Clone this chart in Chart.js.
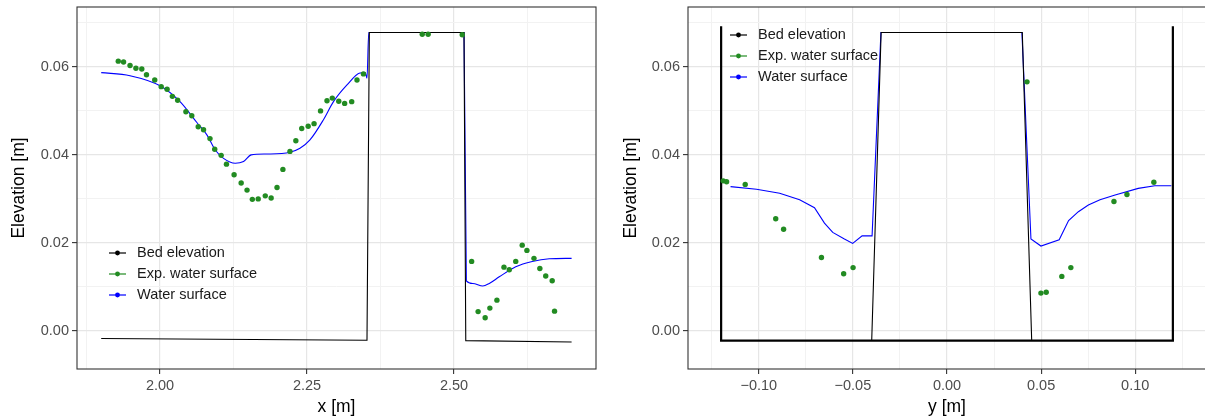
<!DOCTYPE html>
<html>
<head>
<meta charset="utf-8">
<script src="https://cdn.jsdelivr.net/npm/chart.js@4.4.0/dist/chart.umd.min.js"></script>
<style>
  html, body { margin: 0; padding: 0; background: #fff; overflow: hidden; width: 1205px; height: 418px; }
  #wrap { position: relative; width: 1205px; height: 418px; overflow: hidden; }
  canvas { position: absolute; top: 0; }
  #xChart { left: 0; }
  #yChart { left: 600px; }
</style>
</head>
<body>
<div id="wrap">
  <canvas id="xChart" width="600" height="418"></canvas>
  <canvas id="yChart" width="610" height="418"></canvas>
</div>
<script>
// series names + colours (legend order)
const seriesNames = ['Bed elevation', 'Exp. water surface', 'Water surface'];
const seriesColors = ['#000000', '#228B22', '#0000FF'];

// ---- left panel: profile along x ----
const xBedX = [1.900, 2.352, 2.356, 2.517, 2.520, 2.700];
const xBedY = [-0.0017, -0.0021, 0.0678, 0.0678, -0.0022, -0.0025];

const xWsX = [1.900, 1.949, 2.000, 2.034, 2.063, 2.080, 2.094, 2.108, 2.128, 2.142, 2.155, 2.182,
  2.221, 2.238, 2.255, 2.278, 2.295, 2.318, 2.340, 2.349, 2.352, 2.355, 2.517, 2.521, 2.532,
  2.549, 2.560, 2.577, 2.605, 2.633, 2.662, 2.700];
const xWsY = [0.0587, 0.0580, 0.0557, 0.0521, 0.0473, 0.0445, 0.0411, 0.0392, 0.0381, 0.0385, 0.0400, 0.0402,
  0.0406, 0.0415, 0.0434, 0.0480, 0.0521, 0.0559, 0.0586, 0.0587, 0.0574, 0.0678, 0.0678, 0.0114, 0.0108,
  0.0102, 0.0108, 0.0123, 0.0146, 0.0158, 0.0164, 0.0165];

const xExpX = [1.929, 1.938, 1.949, 1.959, 1.969, 1.977, 1.991, 2.002, 2.012, 2.021, 2.030, 2.044,
  2.054, 2.065, 2.074, 2.085, 2.093, 2.104, 2.113, 2.126, 2.138, 2.148, 2.157, 2.167, 2.179, 2.189,
  2.199, 2.209, 2.221, 2.231, 2.241, 2.252, 2.262, 2.273, 2.284, 2.293, 2.304, 2.314, 2.326, 2.335,
  2.346, 2.446, 2.456, 2.514, 2.530, 2.541, 2.553, 2.561, 2.573, 2.585, 2.594, 2.605, 2.616, 2.624,
  2.636, 2.646, 2.656, 2.667, 2.671];
const xExpY = [0.0613, 0.0611, 0.0603, 0.0597, 0.0595, 0.0582, 0.0570, 0.0555, 0.0549, 0.0533, 0.0524, 0.0498,
  0.0489, 0.0464, 0.0457, 0.0437, 0.0413, 0.0399, 0.0379, 0.0355, 0.0336, 0.0320, 0.0299, 0.0300, 0.0307, 0.0302,
  0.0326, 0.0367, 0.0408, 0.0432, 0.0460, 0.0465, 0.0471, 0.0500, 0.0523, 0.0529, 0.0522, 0.0517, 0.0521, 0.0570,
  0.0584, 0.0674, 0.0674, 0.0673, 0.0158, 0.0044, 0.0030, 0.0052, 0.0070, 0.0145, 0.0139, 0.0158, 0.0195, 0.0183,
  0.0165, 0.0142, 0.0125, 0.0114, 0.0045];

// ---- right panel: cross-section along y ----
// outer channel, then a break (null), then the block
const yBedX = [-0.120, -0.120, 0.120, 0.120, 0.000, -0.040, -0.035, 0.040, 0.045];
const yBedY = [0.0692, -0.0022, -0.0022, 0.0692, null, -0.0022, 0.0678, 0.0678, -0.0022];

const yWsX = [-0.115, -0.1012, -0.0889, -0.0783, -0.0704, -0.0651, -0.0607, -0.0545, -0.0501, -0.0451,
  -0.0398, -0.0351, 0.0398, 0.0446, 0.0499, 0.0596, 0.0646, 0.0698, 0.0751, 0.0813, 0.0893, 0.1016, 0.1104, 0.1192];
const yWsY = [0.0328, 0.0322, 0.0313, 0.0298, 0.0280, 0.0245, 0.0224, 0.0209, 0.0199, 0.0216,
  0.0216, 0.0678, 0.0678, 0.0209, 0.0193, 0.0207, 0.0251, 0.0271, 0.0286, 0.0298, 0.0309, 0.0324, 0.0330, 0.0330];

const yExpX = [-0.1189, -0.1171, -0.1072, -0.0910, -0.0868, -0.0667, -0.0549, -0.0499,
  0.0425, 0.0499, 0.0527, 0.0610, 0.0658, 0.0887, 0.0956, 0.1099];
const yExpY = [0.0341, 0.0339, 0.0333, 0.0255, 0.0231, 0.0167, 0.0130, 0.0144,
  0.0566, 0.0086, 0.0088, 0.0124, 0.0144, 0.0294, 0.0310, 0.0338];

// ticks / grid
const elevMajor = [0.00, 0.02, 0.04, 0.06];
const elevMinor = [0.01, 0.03, 0.05, 0.07];
const xMajor = [2.00, 2.25, 2.50];
const xMinor = [1.875, 2.125, 2.375, 2.625];
const yMajor = [-0.10, -0.05, 0.00, 0.05, 0.10];
const yMinor = [-0.125, -0.075, -0.025, 0.025, 0.075, 0.125];

const zip = (xs, ys) => xs.map((x, i) => ({ x: x, y: ys[i] }));
const isIn = (list, v) => list.some(m => Math.abs(m - v) < 1e-9);
const fmt = v => v.toFixed(2).replace('-', '\u2212');
const FONT = '"Liberation Sans", Arial, Helvetica, sans-serif';

// panel border drawn on top, like ggplot's theme_bw
const panelBorder = {
  id: 'panelBorder',
  afterDatasetsDraw(chart) {
    const { ctx, chartArea: a } = chart;
    ctx.save();
    ctx.strokeStyle = '#333333';
    ctx.lineWidth = 1.1;
    ctx.strokeRect(a.left, a.top, a.right - a.left, a.bottom - a.top);
    ctx.restore();
  }
};

// legend drawn inside the panel
const insideLegend = {
  id: 'insideLegend',
  afterDraw(chart, args, opts) {
    const { ctx, chartArea } = chart;
    const x0 = chartArea.left + opts.dx;
    const y0 = chartArea.top + opts.dy;
    ctx.save();
    ctx.font = '14.5px ' + FONT;
    ctx.textBaseline = 'middle';
    seriesNames.forEach((name, i) => {
      const y = y0 + i * 21;
      ctx.strokeStyle = seriesColors[i];
      ctx.fillStyle = seriesColors[i];
      ctx.lineWidth = 1.2;
      ctx.beginPath();
      ctx.moveTo(x0, y);
      ctx.lineTo(x0 + 17, y);
      ctx.stroke();
      ctx.beginPath();
      ctx.arc(x0 + 8.5, y, 2.4, 0, Math.PI * 2);
      ctx.fill();
      ctx.fillStyle = '#1a1a1a';
      ctx.fillText(name, x0 + 28, y);
    });
    ctx.restore();
  }
};

function axis(opts) {
  const ticks = opts.major.concat(opts.minor).sort((a, b) => a - b);
  return {
    type: 'linear',
    position: opts.position,
    min: opts.min,
    max: opts.max,
    afterBuildTicks: s => { s.ticks = ticks.map(v => ({ value: v })); },
    afterFit: s => {
      if (opts.position === 'left') s.width = opts.size; else s.height = opts.size;
      s.paddingTop = 0; s.paddingBottom = 0; s.paddingLeft = 0; s.paddingRight = 0;
    },
    border: { display: false },
    grid: {
      color: c => (c.tick && isIn(opts.major, c.tick.value)) ? '#e6e6e6' : '#f2f2f2',
      lineWidth: c => (c.tick && isIn(opts.major, c.tick.value)) ? 1.2 : 1,
      tickColor: c => (c.tick && isIn(opts.major, c.tick.value)) ? '#333333' : 'rgba(0,0,0,0)',
      tickLength: 5,
      tickWidth: 1.1
    },
    ticks: {
      autoSkip: false,
      maxRotation: 0,
      padding: 3,
      color: '#4d4d4d',
      font: { family: FONT, size: 14.5 },
      callback: v => isIn(opts.major, v) ? fmt(v) : ''
    },
    title: {
      display: true,
      text: opts.title,
      color: '#000000',
      font: { family: FONT, size: 17.5 },
      padding: opts.titlePad
    }
  };
}

function makeChart(id, data, xOpts, yOpts, legendPos, right) {
  const bed = data[0], ws = data[1], exp = data[2];
  return new Chart(document.getElementById(id), {
    type: 'scatter',
    data: {
      datasets: [
        {
          label: seriesNames[1], data: exp, showLine: false,
          pointRadius: 2.7, pointBackgroundColor: seriesColors[1], pointBorderWidth: 0
        },
        {
          label: seriesNames[0], data: bed, showLine: true, spanGaps: false,
          borderColor: seriesColors[0], borderWidth: 1.1, pointRadius: 0,
          segment: {
            borderWidth: c => (right && (Math.abs(c.p0.parsed.x) > 0.1 || Math.abs(c.p1.parsed.x) > 0.1)) ? 2.2 : 1.1
          }
        },
        {
          label: seriesNames[2], data: ws, showLine: true,
          borderColor: seriesColors[2], borderWidth: 1.1, pointRadius: 0,
          // the x-profile from the model is a smooth curve, the cross-section is piecewise
          cubicInterpolationMode: right ? 'default' : 'monotone',
          tension: right ? 0 : 0.4
        }
      ]
    },
    options: {
      responsive: false,
      animation: false,
      devicePixelRatio: 1,
      layout: { padding: { top: 7, right: right ? 2 : 4, bottom: 0, left: 0 } },
      plugins: {
        legend: { display: false },
        tooltip: { enabled: false },
        insideLegend: legendPos
      },
      scales: { x: axis(xOpts), y: axis(yOpts) }
    },
    plugins: [panelBorder, insideLegend]
  });
}

makeChart('xChart',
  [zip(xBedX, xBedY), zip(xWsX, xWsY), zip(xExpX, xExpY)],
  { position: 'bottom', min: 1.8588, max: 2.7415, major: xMajor, minor: xMinor, size: 49, title: 'x [m]', titlePad: { top: 2, bottom: 0 } },
  { position: 'left', min: -0.00864, max: 0.0736, major: elevMajor, minor: elevMinor, size: 77, title: 'Elevation [m]', titlePad: { top: 9, bottom: 0 } },
  { dx: 32, dy: 246 }, false);

makeChart('yChart',
  [zip(yBedX, yBedY), zip(yWsX, yWsY), zip(yExpX, yExpY)],
  { position: 'bottom', min: -0.1376, max: 0.1376, major: yMajor, minor: yMinor, size: 49, title: 'y [m]', titlePad: { top: 2, bottom: 0 } },
  { position: 'left', min: -0.00864, max: 0.0736, major: elevMajor, minor: elevMinor, size: 88, title: 'Elevation [m]', titlePad: { top: 21, bottom: 0 } },
  { dx: 42, dy: 28 }, true);
</script>
</body>
</html>
